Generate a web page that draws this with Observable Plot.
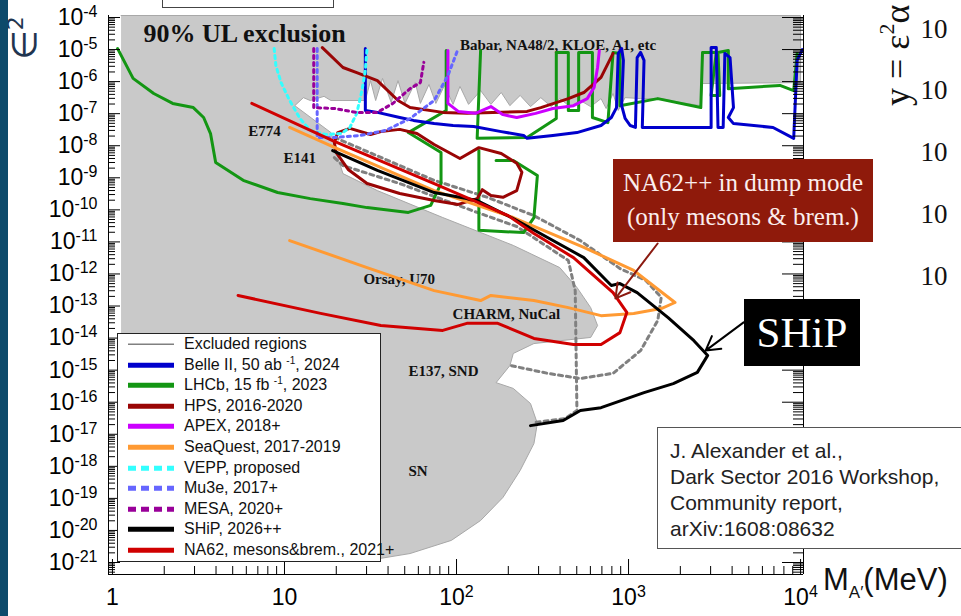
<!DOCTYPE html>
<html><head><meta charset="utf-8">
<script src="https://cdn.jsdelivr.net/npm/d3@7"></script>
<script src="https://cdn.jsdelivr.net/npm/@observablehq/plot@0.6"></script>
<style>
body{margin:0;background:#fff;}
#wrap{position:relative;width:961px;height:616px;overflow:hidden;font-family:"Liberation Sans",Arial,sans-serif;}
#wrap > svg{position:absolute;left:0;top:0;}
.abs{position:absolute;box-sizing:border-box;}
#legend{left:117px;top:333px;width:264px;height:229px;background:#fff;border:1px solid #222;}
.lrow{position:relative;height:20.6px;line-height:20.6px;font-size:16px;color:#111;white-space:nowrap;}
.lrow svg{position:absolute;left:9px;top:0;}
.lrow span{position:absolute;left:66px;top:0;}
.lrow sup{font-size:10px;vertical-align:0;position:relative;top:-6px;}
#cite{left:657px;top:427px;width:320px;height:122px;background:#fff;border:1px solid #555;padding:10px 0 0 12px;font-size:21px;line-height:26px;color:#222;}
#na62box{left:613px;top:159px;width:260px;height:83px;background:#8f1a0b;color:#fbeeee;font-family:"Liberation Serif",serif;font-size:25px;line-height:34px;text-align:center;padding-top:7px;}
#shipbox{left:744px;top:299px;width:116px;height:67px;background:#000;color:#fff;font-family:"Liberation Serif",serif;font-size:43px;line-height:67px;text-align:center;}
#topbox{left:162px;top:-2px;width:172px;height:10px;background:#fff;border:1px solid #444;}
#leftbar{left:0;top:0;width:8px;height:616px;background:#0d4a6b;}
#xtitle{left:823px;top:562px;font-size:31px;color:#111;white-space:nowrap;}
#xtitle sub{font-size:17px;vertical-align:0;position:relative;top:8px;}
</style></head><body><div id="wrap"></div>
<script>
// ---- scale extents (log10) ----
const xLogDomain = [-0.023, 4.017];   // M_A' (MeV)
const yLogDomain = [-21.374, -3.938]; // eps^2

// ---- tick labels ----
const xTickValues = [1, 10, 100, 1000, 10000];
const xTickLabels = ["1", "10", "10^2", "10^3", "10^4"];
const yTickExponents = [-4,-5,-6,-7,-8,-9,-10,-11,-12,-13,-14,-15,-16,-17,-18,-19,-20,-21];

// ---- curves: [log10 M (MeV), log10 eps^2] ----
const excludedRegion = [[0.05,-3.938],[4.0,-3.938],[4.0,-6.03],[3.43,-6.06],[3.42,-6.75],[3.30,-6.65],[3.19,-6.53],[3.07,-6.53],[2.98,-6.50],[2.94,-6.90],[2.91,-6.37],[2.87,-6.84],[2.84,-6.53],[2.78,-6.78],[2.72,-6.59],[2.66,-6.78],[2.60,-6.53],[2.55,-6.78],[2.49,-6.50],[2.43,-6.78],[2.37,-6.43],[2.31,-6.75],[2.26,-6.34],[2.20,-6.71],[2.14,-6.28],[2.07,-6.71],[2.02,-6.15],[1.98,-6.71],[1.93,-6.12],[1.88,-6.68],[1.84,-6.09],[1.79,-6.68],[1.76,-6.03],[1.70,-6.68],[1.66,-5.97],[1.62,-6.65],[1.57,-5.90],[1.53,-6.59],[1.50,-5.97],[1.47,-6.59],[1.34,-6.59],[1.27,-6.59],[1.23,-6.46],[1.15,-6.59],[1.11,-6.50],[1.06,-6.75],[1.27,-7.59],[1.31,-8.37],[1.34,-8.87],[1.54,-9.40],[1.92,-10.24],[2.33,-11.11],[2.60,-11.80],[2.70,-12.42],[2.78,-13.05],[2.82,-13.61],[2.78,-13.98],[2.45,-14.17],[2.33,-14.48],[2.31,-14.86],[2.23,-15.39],[2.33,-15.57],[2.43,-16.04],[2.47,-16.66],[2.45,-17.29],[2.37,-18.13],[2.27,-18.97],[2.14,-19.69],[1.97,-20.31],[1.73,-20.72],[1.56,-20.87],[0.05,-20.87]];
const belle2 = [[1.47,-4.97],[1.47,-6.90],[1.54,-6.96],[1.67,-7.12],[1.75,-7.21],[1.87,-7.31],[1.98,-7.37],[2.10,-7.40],[2.26,-7.56],[2.39,-7.68],[2.41,-7.77],[2.56,-7.68],[2.70,-7.59],[2.84,-7.37],[2.90,-7.12],[2.93,-6.81],[2.94,-5.12],[2.96,-4.97],[2.97,-5.34],[2.96,-6.75],[2.98,-7.15],[3.01,-7.37],[3.04,-7.43],[3.05,-5.25],[3.07,-5.09],[3.09,-5.34],[3.08,-7.43],[3.26,-7.43],[3.48,-7.43],[3.48,-4.94],[3.51,-4.94],[3.52,-7.43],[3.55,-7.43],[3.56,-5.12],[3.59,-5.25],[3.61,-6.81],[3.58,-7.12],[3.61,-7.31],[3.84,-7.43],[3.96,-7.77],[3.98,-5.34],[4.01,-5.00]];
const lhcbLow = [[0.03,-4.97],[0.12,-5.90],[0.24,-6.37],[0.35,-6.68],[0.47,-6.81],[0.53,-7.12],[0.57,-7.62],[0.60,-8.52],[0.76,-9.08],[0.96,-9.46],[1.15,-9.65],[1.34,-9.80],[1.48,-9.93],[1.72,-10.08],[1.85,-9.86],[1.91,-9.18],[1.91,-8.21],[1.72,-7.59],[1.94,-6.90],[1.94,-5.03]];
const lhcbHigh = [[2.14,-5.03],[2.12,-7.77],[2.41,-7.74],[2.58,-7.15],[2.58,-5.09],[2.65,-5.09],[2.65,-6.90],[2.71,-6.90],[2.71,-5.09],[2.79,-5.09],[2.79,-7.12],[2.88,-7.28],[2.91,-5.09],[2.95,-5.12],[2.95,-6.75],[3.17,-6.53],[3.42,-6.81],[3.43,-5.09],[3.51,-5.09],[3.48,-6.43],[3.53,-6.43],[3.52,-5.09],[3.58,-5.03],[3.58,-6.22],[3.88,-6.12],[3.96,-6.28],[3.98,-5.12]];
const lhcbMid = [[2.23,-8.46],[2.33,-8.46],[2.47,-8.93],[2.45,-10.24],[2.39,-10.71],[2.13,-10.64],[2.13,-8.15]];
const hpsUpper = [[1.22,-4.94],[1.34,-5.56],[1.42,-5.72],[1.54,-5.97],[1.66,-6.59],[1.73,-6.81],[1.92,-6.96],[2.06,-6.99],[2.41,-6.93],[2.49,-6.81],[2.65,-6.53],[2.74,-6.34],[2.84,-5.87],[2.91,-5.12]];
const hpsLoop = [[1.29,-7.90],[1.31,-7.59],[1.38,-7.46],[1.50,-7.65],[1.56,-7.56],[1.67,-7.49],[1.77,-7.62],[1.87,-7.96],[2.02,-8.40],[2.13,-8.06],[2.26,-8.24],[2.35,-8.55],[2.38,-8.83],[2.35,-9.40],[2.27,-9.61],[2.20,-9.55],[2.15,-9.37],[2.12,-9.65],[2.01,-9.83],[1.87,-9.71],[1.67,-9.49],[1.48,-9.18],[1.37,-8.74],[1.30,-8.21],[1.29,-7.90]];
const apex = [[1.95,-5.03],[1.95,-6.68],[2.01,-6.93],[2.11,-6.99],[2.20,-6.78],[2.27,-7.03],[2.35,-7.12],[2.46,-6.99],[2.56,-6.84],[2.68,-6.75],[2.76,-6.53],[2.80,-6.18],[2.82,-5.56],[2.83,-5.03]];
const seaquest = [[1.03,-7.43],[1.29,-8.05],[1.87,-9.40],[2.33,-10.24],[2.74,-11.17],[3.03,-11.89],[3.27,-12.89],[3.19,-13.08],[3.03,-13.23],[2.84,-13.30],[2.65,-13.05],[2.45,-12.83],[2.20,-12.67],[2.14,-12.83],[1.87,-12.52],[1.48,-11.80],[1.03,-10.96]];
const vepp = [[0.94,-4.97],[0.95,-5.50],[0.98,-6.03],[1.03,-6.59],[1.09,-7.15],[1.15,-7.52],[1.24,-7.65],[1.33,-7.62],[1.38,-7.43],[1.42,-6.99],[1.45,-6.28],[1.47,-5.65],[1.48,-4.97]];
const mu3e = [[1.19,-4.97],[1.19,-7.74],[1.30,-7.74],[1.44,-7.68],[1.59,-7.52],[1.73,-7.15],[1.87,-6.59],[1.95,-5.81],[2.01,-4.97]];
const mesa = [[1.17,-4.97],[1.17,-6.81],[1.29,-6.84],[1.42,-6.96],[1.54,-6.96],[1.63,-6.68],[1.73,-6.22],[1.79,-6.03],[1.81,-5.40]];
const ship = [[1.28,-8.15],[1.54,-8.77],[1.87,-9.46],[2.12,-9.71],[2.33,-10.27],[2.74,-11.49],[2.90,-12.36],[2.95,-12.30],[3.05,-12.58],[3.23,-13.36],[3.38,-14.08],[3.46,-14.54],[3.40,-15.07],[3.26,-15.42],[3.09,-15.70],[2.84,-16.17],[2.72,-16.26],[2.62,-16.57],[2.43,-16.73]];
const na62 = [[0.81,-6.68],[1.28,-7.84],[1.87,-9.18],[2.10,-9.71],[2.30,-10.18],[2.45,-10.74],[2.68,-11.49],[2.91,-12.58],[2.99,-13.20],[2.95,-13.83],[2.84,-14.20],[2.68,-14.20],[2.45,-14.01],[2.24,-13.54],[2.06,-13.54],[1.92,-13.76],[1.56,-13.61],[1.21,-13.23],[0.73,-12.67]];
const dashedUpper = [[1.29,-7.74],[1.87,-9.08],[2.18,-9.61],[2.45,-10.18],[2.72,-10.96],[2.95,-11.83],[3.10,-12.20],[3.19,-12.73],[3.17,-13.45],[3.07,-14.39],[2.91,-15.10],[2.72,-15.26],[2.53,-15.10],[2.31,-14.85]];
const dashedLower = [[1.29,-8.37],[1.34,-8.62],[1.67,-9.18],[2.12,-10.08],[2.35,-10.52],[2.65,-11.58],[2.69,-12.52],[2.70,-16.26],[2.63,-16.51],[2.45,-16.63]];

// ---- in-plot labels ----
const regionLabelText = ["Babar, NA48/2, KLOE, A1, etc", "E774", "E141", "Orsay, U70", "CHARM, NuCal", "E137, SND", "SN"];
const regionLabelAt = [[2.02,-4.87],[0.79,-7.56],[0.994,-8.40],[1.459,-12.17],[1.977,-13.26],[1.721,-15.04],[1.721,-18.16]];
const titleText = "90% UL exclusion";
const titleAt = [0.18, -4.50];
const arrowsFromTo = [[3.169,-11.05,2.924,-12.76],[3.669,-13.51,3.448,-14.39]];
const arrowColors = ["#8b1a10", "#000"];

// ---- legend ----
const legendLabels = ["Excluded regions","Belle II, 50 ab ^-1, 2024","LHCb, 15 fb ^-1, 2023","HPS, 2016-2020","APEX, 2018+","SeaQuest, 2017-2019","VEPP, proposed","Mu3e, 2017+","MESA, 2020+","SHiP, 2026++","NA62, mesons&brem., 2021+"];
const legendColors = ["#808080","#0000cc","#139613","#990505","#cc00ff","#ff9a33","#33ffff","#6666ff","#990099","#000000","#d00000"];
const legendDashed = [false,false,false,false,false,false,true,true,true,false,false];

const W = 961, H = 616, ML = 108, MR = 158, MT = 15, MB = 42;
const FW = W - ML - MR, FH = H - MT - MB;
const P = a => a.map(([lm, le]) => ({m: 10 ** lm, e: 10 ** le}));
const xDom = xLogDomain.map(v => 10 ** v), yDom = yLogDomain.map(v => 10 ** v);

const inX = v => v >= xDom[0] && v <= xDom[1];
const inY = v => v >= yDom[0] && v <= yDom[1];
const xMinor = [1,10,100,1000].flatMap(d => d3.range(2,10).map(k => k*d)).filter(inX);
const yMajor = yTickExponents.map(e => 10 ** e);
const yMinor = d3.range(-22,-3).flatMap(e => d3.range(2,10).map(k => k * 10 ** e)).filter(inY);

const line = (arr, i, sw = 3) => Plot.line(P(arr), {
  x: "m", y: "e", stroke: legendColors[i], strokeWidth: sw,
  strokeDasharray: legendDashed[i] ? "3,4" : null, strokeLinejoin: "round"
});

const svg = Plot.plot({
  width: W, height: H, marginLeft: ML, marginRight: MR, marginTop: MT, marginBottom: MB,
  x: {type: "log", domain: xDom, axis: null},
  y: {type: "log", domain: yDom, axis: null},
  style: {background: "transparent"},
  marks: [
    Plot.line(P(excludedRegion), {x: "m", y: "e", fill: "#c9c9c9", stroke: "#a8a8a8", strokeWidth: 1}),
    Plot.text([titleText], {x: () => 10 ** titleAt[0], y: () => 10 ** titleAt[1], text: d => d, textAnchor: "start",
      fontFamily: "Liberation Serif, serif", fontWeight: "bold", fontSize: 26, fill: "#111"}),
    Plot.text(regionLabelText, {x: (d, i) => 10 ** regionLabelAt[i][0], y: (d, i) => 10 ** regionLabelAt[i][1], text: d => d,
      textAnchor: "start", fontFamily: "Liberation Serif, serif", fontWeight: "bold", fontSize: 15, fill: "#111"}),
    Plot.line(P(dashedUpper), {x: "m", y: "e", stroke: "#808080", strokeWidth: 3, strokeDasharray: "4,4"}),
    Plot.line(P(dashedLower), {x: "m", y: "e", stroke: "#808080", strokeWidth: 3, strokeDasharray: "4,4"}),
    line(lhcbLow, 2), line(lhcbHigh, 2), line(lhcbMid, 2),
    line(belle2, 1),
    line(hpsUpper, 3), line(hpsLoop, 3),
    line(apex, 4),
    line(seaquest, 5),
    line(vepp, 6), line(mu3e, 7), line(mesa, 8),
    line(ship, 9),
    line(na62, 10),
    Plot.arrow(arrowsFromTo, {x1: d => 10 ** d[0], y1: d => 10 ** d[1], x2: d => 10 ** d[2], y2: d => 10 ** d[3],
      stroke: (d, i) => arrowColors[i], strokeWidth: 2, headLength: 12}),
    // frame (left, bottom, right)
    Plot.ruleX([xDom[0], xDom[1]], {stroke: "#000", strokeWidth: 1}),
    Plot.ruleY([yDom[0]], {stroke: "#000", strokeWidth: 1}),
    // ticks
    Plot.tickX(xTickValues, {x: d => d, stroke: "#000", insetTop: FH - 15}),
    Plot.tickX(xMinor, {x: d => d, stroke: "#000", insetTop: FH - 8}),
    Plot.tickY(yMajor, {y: d => d, stroke: "#000", insetRight: FW - 12}),
    Plot.tickY(yMinor, {y: d => d, stroke: "#000", insetRight: FW - 7}),
    Plot.tickY(yMajor, {y: d => d, stroke: "#000", insetLeft: FW - 21}),
    Plot.tickY(yMinor, {y: d => d, stroke: "#000", insetLeft: FW - 10}),
    // tick labels
    Plot.text(xTickLabels, {x: (d, i) => xTickValues[i], text: d => d, frameAnchor: "bottom", dy: 30,
      fontFamily: "Liberation Sans, Arial, sans-serif", fontSize: 23, fill: "#000"}),
    Plot.text(yTickExponents, {y: d => 10 ** d, text: d => "10^" + d, frameAnchor: "left", textAnchor: "end", dx: -11,
      fontFamily: "Liberation Sans, Arial, sans-serif", fontSize: 23, fill: "#000"})
  ]
});

// superscripts for "10^n" tick labels
const NS = "http://www.w3.org/2000/svg";
d3.select(svg).selectAll("text").each(function () {
  const s = this.textContent, i = s.indexOf("^");
  if (i < 0) return;
  this.textContent = "";
  const a = document.createElementNS(NS, "tspan"); a.textContent = s.slice(0, i); this.appendChild(a);
  const b = document.createElementNS(NS, "tspan"); b.textContent = s.slice(i + 1);
  b.setAttribute("font-size", "16"); b.setAttribute("dy", "-0.5em"); this.appendChild(b);
});

// decorative texts: axis symbol and neighbouring panel edge
const deco = d3.select(svg).append("g");
deco.append("text").attr("transform", "translate(36,38) rotate(-90)").attr("text-anchor", "middle")
  .attr("font-family", "DejaVu Sans, sans-serif").attr("font-size", 34).attr("fill", "#1f3550")
  .text("∈").append("tspan").attr("font-size", 22).attr("dy", "-0.6em").text("2");
const yeq = deco.append("text").attr("transform", "translate(909,106) rotate(-90)").attr("text-anchor", "start")
  .attr("font-family", "Liberation Serif, serif").attr("font-size", 36).attr("fill", "#111").text("y = ε");
yeq.append("tspan").attr("font-size", 22).attr("dy", "-0.7em").text("2");
yeq.append("tspan").attr("dy", "0.43em").text("α");
[29, 90, 152, 214, 276].forEach(y => deco.append("text").attr("x", 934).attr("y", y).attr("dy", "0.35em")
  .attr("font-family", "Liberation Serif, serif").attr("font-size", 27).attr("fill", "#111").text("10"));

const wrap = document.getElementById("wrap");
wrap.appendChild(svg);

const add = (id, html) => { const d = document.createElement("div"); d.id = id; d.className = "abs"; d.innerHTML = html; wrap.appendChild(d); return d; };
add("leftbar", "");
add("topbox", "");
add("legend", legendLabels.map((t, i) => {
  const lbl = t.replace(/\^(-1)/, "<sup>$1</sup>");
  const sw = i === 0 ? 1.5 : 5;
  const dash = legendDashed[i] ? 'stroke-dasharray="8,5"' : "";
  return `<div class="lrow"><svg width="48" height="20.6"><line x1="1" x2="47" y1="10.3" y2="10.3" stroke="${legendColors[i]}" stroke-width="${sw}" ${dash}/></svg><span>${lbl}</span></div>`;
}).join(""));
add("cite", "J. Alexander et al.,<br>Dark Sector 2016 Workshop,<br>Community report,<br>arXiv:1608:08632");
add("na62box", "NA62++ in dump mode<br>(only mesons &amp; brem.)");
add("shipbox", "SHiP");
add("xtitle", "M<sub>A′</sub>(MeV)");
</script></body></html>
